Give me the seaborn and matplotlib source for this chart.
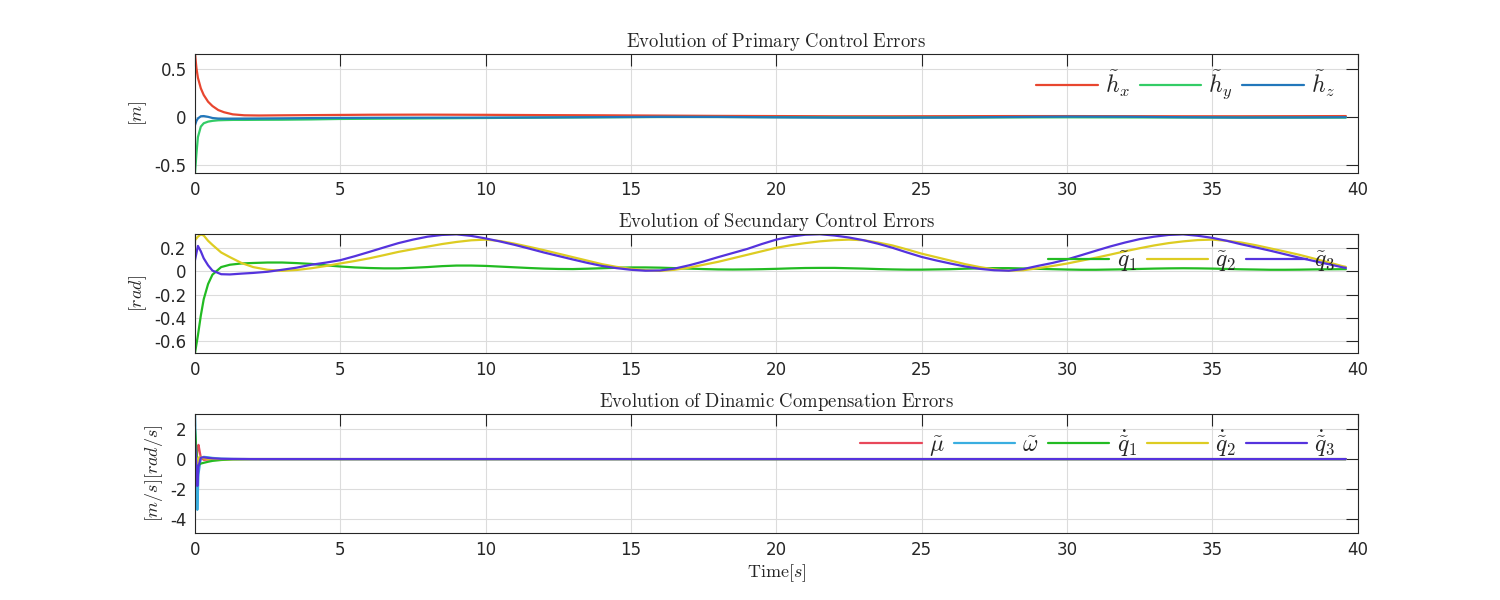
import numpy as np
import pandas as pd
import seaborn as sns
import matplotlib
matplotlib.use("Agg")
import matplotlib.pyplot as plt

# ---- primary control errors [m]
t_top = [0, 0.05, 0.1, 0.2, 0.3, 0.45, 0.6, 0.8, 1.0, 1.3, 1.7, 2.2, 3, 4, 5, 6, 8,
         10, 12, 14, 16, 18, 20, 22, 24, 26, 28, 30, 32, 34, 36, 38, 39.6]
hx = [0.66, 0.51, 0.41, 0.30, 0.23, 0.16, 0.115, 0.073, 0.05, 0.028, 0.018, 0.016, 0.018,
      0.02, 0.022, 0.024, 0.025, 0.023, 0.02, 0.018, 0.015, 0.012, 0.01, 0.008, 0.008,
      0.009, 0.01, 0.01, 0.009, 0.008, 0.008, 0.009, 0.01]
hy = [-0.585, -0.38, -0.21, -0.10, -0.065, -0.048, -0.04, -0.034, -0.032, -0.03, -0.03,
      -0.029, -0.028, -0.025, -0.02, -0.018, -0.014, -0.01, -0.006, -0.003, 0.0, 0.0,
      -0.002, -0.004, -0.005, -0.005, -0.004, -0.003, -0.004, -0.005, -0.006, -0.006, -0.006]
hz = [-0.085, -0.04, -0.015, 0.008, 0.01, 0.002, -0.01, -0.017, -0.018, -0.018, -0.017,
      -0.016, -0.014, -0.011, -0.009, -0.008, -0.007, -0.006, -0.004, -0.001, 0.002, 0.001,
      -0.003, -0.006, -0.007, -0.005, 0.0, 0.004, 0.003, -0.002, -0.005, -0.004, -0.002]

# ---- secondary control errors [rad], half-second samples after t = 2
t_mid = [0, 0.1, 0.2, 0.3, 0.45, 0.6, 0.9, 1.2, 1.6] + [k / 2 for k in range(4, 80)] + [39.6]
q1 = [-0.70, -0.55, -0.38, -0.24, -0.11, -0.03, 0.035, 0.055, 0.066,
      0.07, 0.074, 0.074, 0.069, 0.062, 0.05, 0.04, 0.032, 0.027, 0.024,
      0.024, 0.029, 0.035, 0.043, 0.048, 0.048, 0.045, 0.039, 0.033, 0.027,
      0.022, 0.019, 0.018, 0.021, 0.025, 0.029, 0.032, 0.032, 0.03, 0.026,
      0.022, 0.018, 0.015, 0.014, 0.015, 0.017, 0.02, 0.024, 0.027, 0.028,
      0.028, 0.025, 0.022, 0.018, 0.015, 0.013, 0.013, 0.015, 0.017, 0.021,
      0.024, 0.026, 0.026, 0.023, 0.02, 0.017, 0.014, 0.012, 0.012, 0.014,
      0.016, 0.019, 0.022, 0.024, 0.025, 0.024, 0.022, 0.019, 0.016, 0.014,
      0.012, 0.012, 0.013, 0.015, 0.016, 0.017, 0.017]
q2 = [0.265, 0.295, 0.315, 0.305, 0.26, 0.225, 0.16, 0.12, 0.07,
      0.035, 0.012, 0.003, 0.01, 0.025, 0.044, 0.066, 0.087, 0.11, 0.137,
      0.165, 0.188, 0.21, 0.232, 0.25, 0.264, 0.27, 0.258, 0.235, 0.208,
      0.18, 0.15, 0.12, 0.09, 0.06, 0.037, 0.02, 0.008, 0.002, 0.012,
      0.03, 0.055, 0.08, 0.11, 0.14, 0.17, 0.20, 0.222, 0.24, 0.255,
      0.265, 0.27, 0.265, 0.245, 0.22, 0.186, 0.15, 0.12, 0.09, 0.06,
      0.035, 0.015, 0.004, 0.008, 0.025, 0.044, 0.065, 0.09, 0.115, 0.142,
      0.17, 0.196, 0.22, 0.24, 0.255, 0.266, 0.27, 0.26, 0.245, 0.222,
      0.195, 0.168, 0.14, 0.108, 0.075, 0.042, 0.037]
q3 = [0.094, 0.216, 0.17, 0.11, 0.05, 0.005, -0.026, -0.028, -0.021,
      -0.015, -0.005, 0.012, 0.03, 0.055, 0.073, 0.094, 0.128, 0.165, 0.203,
      0.24, 0.27, 0.295, 0.31, 0.315, 0.302, 0.28, 0.254, 0.225, 0.193,
      0.16, 0.13, 0.10, 0.071, 0.045, 0.026, 0.012, 0.004, 0.006, 0.022,
      0.05, 0.083, 0.12, 0.155, 0.19, 0.232, 0.27, 0.296, 0.312, 0.316,
      0.305, 0.288, 0.265, 0.235, 0.20, 0.16, 0.122, 0.092, 0.065, 0.04,
      0.02, 0.008, 0.004, 0.018, 0.045, 0.07, 0.10, 0.137, 0.175, 0.212,
      0.245, 0.274, 0.295, 0.31, 0.315, 0.303, 0.285, 0.26, 0.23, 0.203,
      0.175, 0.145, 0.115, 0.087, 0.06, 0.032, 0.028]

# ---- dynamic compensation errors
t_bot = [0, 0.04, 0.08, 0.12, 0.2, 0.3, 0.45, 0.6, 0.9, 1.3, 2, 39.6]
mu_e = [-1.5, -0.5, 0.6, 0.95, 0.1, -0.05, -0.03, -0.02, -0.01, 0, 0, 0]
w_e = [3.0, 0.2, -3.4, -1.0, 0.05, 0.15, 0.12, 0.08, 0.03, 0.01, 0, 0]
q1d = [2.0, 0.8, -0.6, -0.4, -0.3, -0.25, -0.18, -0.12, -0.06, -0.02, 0, 0]
q2d = [0.3, 0.0, -0.3, 0.1, 0.15, 0.05, 0.02, 0.01, 0, 0, 0, 0]
q3d = [1.15, -0.2, -1.8, -0.5, 0.1, 0.12, 0.08, 0.05, 0.02, 0.01, 0, 0]

sns.set_theme(style="whitegrid")
plt.rcParams['font.family'] = ['DejaVu Sans']
plt.rcParams['mathtext.fontset'] = 'cm'
plt.rcParams['axes.unicode_minus'] = False

panels = [
    dict(t=t_top, series=[(hx, '#E8462F', r'$\tilde{h}_x$'),
                          (hy, '#33CC66', r'$\tilde{h}_y$'),
                          (hz, '#2277BB', r'$\tilde{h}_z$')],
         title=r'$\mathrm{Evolution\ of\ Primary\ Control\ Errors}$',
         ylabel=r'$[m]$', ylim=(-0.584, 0.658), yticks=[-0.5, 0, 0.5],
         ylabels=['-0.5', '0', '0.5']),
    dict(t=t_mid, series=[(q1, '#22BB22', r'$\tilde{q}_1$'),
                          (q2, '#DDCC22', r'$\tilde{q}_2$'),
                          (q3, '#5533DD', r'$\tilde{q}_3$')],
         title=r'$\mathrm{Evolution\ of\ Secundary\ Control\ Errors}$',
         ylabel=r'$[rad]$', ylim=(-0.70, 0.318), yticks=[-0.6, -0.4, -0.2, 0, 0.2],
         ylabels=['-0.6', '-0.4', '-0.2', '0', '0.2']),
    dict(t=t_bot, series=[(mu_e, '#E8475A', r'$\tilde{\mu}$'),
                          (w_e, '#3AAEE0', r'$\tilde{\omega}$'),
                          (q1d, '#22BB22', r'$\dot{\tilde{q}}_1$'),
                          (q2d, '#DDCC22', r'$\dot{\tilde{q}}_2$'),
                          (q3d, '#5533DD', r'$\dot{\tilde{q}}_3$')],
         title=r'$\mathrm{Evolution\ of\ Dinamic\ Compensation\ Errors}$',
         ylabel=r'$[m/s][rad/s]$', ylim=(-4.95, 3.02), yticks=[-4, -2, 0, 2],
         ylabels=['-4', '-2', '0', '2']),
]

fig = plt.figure(figsize=(15, 6), dpi=100)
tops = [0.91, 0.61, 0.31]
for p, top in zip(panels, tops):
    ax = fig.add_axes([0.13, top - 0.1983, 0.775, 0.1983])
    for vals, col, lab in p['series']:
        sns.lineplot(x=p['t'], y=vals, ax=ax, color=col, label=lab, linewidth=1.6)
    ax.set_xlim(0, 40)
    ax.set_ylim(*p['ylim'])
    ax.set_xticks(range(0, 41, 5))
    ax.set_yticks(p['yticks'])
    ax.set_yticklabels(p['ylabels'])
    ax.set_title(p['title'], fontsize=13.5, pad=5)
    ax.set_ylabel(p['ylabel'], fontsize=13, labelpad=4)
    ax.tick_params(axis='both', which='both', direction='in', length=8.5, width=0.8,
                   top=True, right=True, labelsize=12, colors='#262626', pad=6)
    ax.grid(True, color='#DCDCDC', linewidth=0.8)
    for s in ax.spines.values():
        s.set_color('#262626')
        s.set_linewidth(0.8)
    ax.legend(loc='upper right', ncol=len(p['series']), frameon=False, fontsize=17,
              handlelength=2.6, handletextpad=0.3, columnspacing=0.4,
              borderaxespad=0.2, bbox_to_anchor=(0.993, 1.0))

ax.set_xlabel(r'$\mathrm{Time}[s]$', fontsize=13, labelpad=2)

fig.savefig('out.png', dpi=100)
